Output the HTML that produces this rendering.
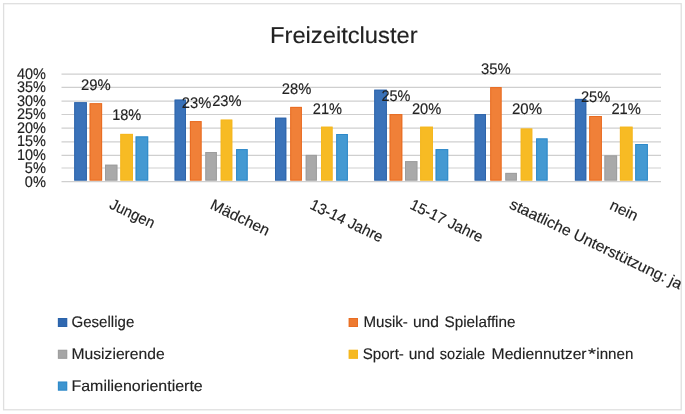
<!DOCTYPE html>
<html><head><meta charset="utf-8"><title>Freizeitcluster</title>
<style>
html,body{margin:0;padding:0;background:#fff;}
body{width:685px;height:414px;overflow:hidden;}
svg{display:block;will-change:transform;filter:blur(0.3px);}
text{font-family:"Liberation Sans",sans-serif;fill:#222;stroke:#222;stroke-width:0.15px;text-rendering:geometricPrecision;}
</style></head><body>
<svg width="685" height="414" viewBox="0 0 685 414">
<rect x="0" y="0" width="685" height="414" fill="#ffffff"/>
<rect x="3.6" y="3.7" width="677.6" height="406.1" fill="none" stroke="#dfdfdf" stroke-width="1.3"/>

<line x1="61.5" x2="661" y1="74.20" y2="74.20" stroke="#cfcfcf" stroke-width="1.2"/>
<line x1="61.5" x2="661" y1="87.40" y2="87.40" stroke="#cfcfcf" stroke-width="1.2"/>
<line x1="61.5" x2="661" y1="101.10" y2="101.10" stroke="#cfcfcf" stroke-width="1.2"/>
<line x1="61.5" x2="661" y1="114.50" y2="114.50" stroke="#cfcfcf" stroke-width="1.2"/>
<line x1="61.5" x2="661" y1="128.20" y2="128.20" stroke="#cfcfcf" stroke-width="1.2"/>
<line x1="61.5" x2="661" y1="141.80" y2="141.80" stroke="#cfcfcf" stroke-width="1.2"/>
<line x1="61.5" x2="661" y1="155.30" y2="155.30" stroke="#cfcfcf" stroke-width="1.2"/>
<line x1="61.5" x2="661" y1="168.00" y2="168.00" stroke="#cfcfcf" stroke-width="1.2"/>
<line x1="61.5" x2="661" y1="181.60" y2="181.60" stroke="#cfcfcf" stroke-width="1.2"/>
<rect x="74.20" y="102.20" width="12.70" height="78.40" fill="#3a72b9"/>
<rect x="74.70" y="102.70" width="11.70" height="77.40" fill="none" stroke="#2a60a6" stroke-width="1" stroke-opacity="0.75"/>
<rect x="89.60" y="103.20" width="12.50" height="77.40" fill="#f08038"/>
<rect x="90.10" y="103.70" width="11.50" height="76.40" fill="none" stroke="#e5641a" stroke-width="1" stroke-opacity="0.75"/>
<rect x="105.00" y="164.70" width="12.40" height="15.90" fill="#a9a9a9"/>
<rect x="105.50" y="165.20" width="11.40" height="14.90" fill="none" stroke="#999999" stroke-width="1" stroke-opacity="0.75"/>
<rect x="120.30" y="133.90" width="12.70" height="46.70" fill="#f7bb24"/>
<rect x="120.80" y="134.40" width="11.70" height="45.70" fill="none" stroke="#f4b51c" stroke-width="1" stroke-opacity="0.75"/>
<rect x="135.60" y="136.40" width="12.60" height="44.20" fill="#4499d2"/>
<rect x="136.10" y="136.90" width="11.60" height="43.20" fill="none" stroke="#2784c6" stroke-width="1" stroke-opacity="0.75"/>
<rect x="174.60" y="99.60" width="11.40" height="81.00" fill="#3a72b9"/>
<rect x="175.10" y="100.10" width="10.40" height="80.00" fill="none" stroke="#2a60a6" stroke-width="1" stroke-opacity="0.75"/>
<rect x="189.90" y="121.10" width="11.70" height="59.50" fill="#f08038"/>
<rect x="190.40" y="121.60" width="10.70" height="58.50" fill="none" stroke="#e5641a" stroke-width="1" stroke-opacity="0.75"/>
<rect x="205.30" y="152.00" width="11.60" height="28.60" fill="#a9a9a9"/>
<rect x="205.80" y="152.50" width="10.60" height="27.60" fill="none" stroke="#999999" stroke-width="1" stroke-opacity="0.75"/>
<rect x="220.70" y="119.60" width="11.60" height="61.00" fill="#f7bb24"/>
<rect x="221.20" y="120.10" width="10.60" height="60.00" fill="none" stroke="#f4b51c" stroke-width="1" stroke-opacity="0.75"/>
<rect x="236.10" y="149.10" width="11.60" height="31.50" fill="#4499d2"/>
<rect x="236.60" y="149.60" width="10.60" height="30.50" fill="none" stroke="#2784c6" stroke-width="1" stroke-opacity="0.75"/>
<rect x="275.00" y="117.70" width="11.30" height="62.90" fill="#3a72b9"/>
<rect x="275.50" y="118.20" width="10.30" height="61.90" fill="none" stroke="#2a60a6" stroke-width="1" stroke-opacity="0.75"/>
<rect x="290.20" y="106.90" width="11.70" height="73.70" fill="#f08038"/>
<rect x="290.70" y="107.40" width="10.70" height="72.70" fill="none" stroke="#e5641a" stroke-width="1" stroke-opacity="0.75"/>
<rect x="305.70" y="154.90" width="11.20" height="25.70" fill="#a9a9a9"/>
<rect x="306.20" y="155.40" width="10.20" height="24.70" fill="none" stroke="#999999" stroke-width="1" stroke-opacity="0.75"/>
<rect x="321.00" y="126.70" width="11.60" height="53.90" fill="#f7bb24"/>
<rect x="321.50" y="127.20" width="10.60" height="52.90" fill="none" stroke="#f4b51c" stroke-width="1" stroke-opacity="0.75"/>
<rect x="336.20" y="134.00" width="11.70" height="46.60" fill="#4499d2"/>
<rect x="336.70" y="134.50" width="10.70" height="45.60" fill="none" stroke="#2784c6" stroke-width="1" stroke-opacity="0.75"/>
<rect x="374.20" y="89.70" width="12.70" height="90.90" fill="#3a72b9"/>
<rect x="374.70" y="90.20" width="11.70" height="89.90" fill="none" stroke="#2a60a6" stroke-width="1" stroke-opacity="0.75"/>
<rect x="389.60" y="114.10" width="12.70" height="66.50" fill="#f08038"/>
<rect x="390.10" y="114.60" width="11.70" height="65.50" fill="none" stroke="#e5641a" stroke-width="1" stroke-opacity="0.75"/>
<rect x="405.00" y="161.10" width="12.40" height="19.50" fill="#a9a9a9"/>
<rect x="405.50" y="161.60" width="11.40" height="18.50" fill="none" stroke="#999999" stroke-width="1" stroke-opacity="0.75"/>
<rect x="420.10" y="126.70" width="12.90" height="53.90" fill="#f7bb24"/>
<rect x="420.60" y="127.20" width="11.90" height="52.90" fill="none" stroke="#f4b51c" stroke-width="1" stroke-opacity="0.75"/>
<rect x="435.60" y="149.10" width="12.60" height="31.50" fill="#4499d2"/>
<rect x="436.10" y="149.60" width="11.60" height="30.50" fill="none" stroke="#2784c6" stroke-width="1" stroke-opacity="0.75"/>
<rect x="474.60" y="114.10" width="11.40" height="66.50" fill="#3a72b9"/>
<rect x="475.10" y="114.60" width="10.40" height="65.50" fill="none" stroke="#2a60a6" stroke-width="1" stroke-opacity="0.75"/>
<rect x="490.20" y="87.10" width="11.40" height="93.50" fill="#f08038"/>
<rect x="490.70" y="87.60" width="10.40" height="92.50" fill="none" stroke="#e5641a" stroke-width="1" stroke-opacity="0.75"/>
<rect x="505.30" y="172.90" width="11.60" height="7.70" fill="#a9a9a9"/>
<rect x="505.80" y="173.40" width="10.60" height="6.70" fill="none" stroke="#999999" stroke-width="1" stroke-opacity="0.75"/>
<rect x="520.70" y="128.50" width="11.60" height="52.10" fill="#f7bb24"/>
<rect x="521.20" y="129.00" width="10.60" height="51.10" fill="none" stroke="#f4b51c" stroke-width="1" stroke-opacity="0.75"/>
<rect x="536.10" y="138.40" width="11.50" height="42.20" fill="#4499d2"/>
<rect x="536.60" y="138.90" width="10.50" height="41.20" fill="none" stroke="#2784c6" stroke-width="1" stroke-opacity="0.75"/>
<rect x="574.90" y="98.90" width="11.40" height="81.70" fill="#3a72b9"/>
<rect x="575.40" y="99.40" width="10.40" height="80.70" fill="none" stroke="#2a60a6" stroke-width="1" stroke-opacity="0.75"/>
<rect x="589.20" y="116.00" width="12.70" height="64.60" fill="#f08038"/>
<rect x="589.70" y="116.50" width="11.70" height="63.60" fill="none" stroke="#e5641a" stroke-width="1" stroke-opacity="0.75"/>
<rect x="604.40" y="155.40" width="12.70" height="25.20" fill="#a9a9a9"/>
<rect x="604.90" y="155.90" width="11.70" height="24.20" fill="none" stroke="#999999" stroke-width="1" stroke-opacity="0.75"/>
<rect x="619.90" y="126.70" width="12.70" height="53.90" fill="#f7bb24"/>
<rect x="620.40" y="127.20" width="11.70" height="52.90" fill="none" stroke="#f4b51c" stroke-width="1" stroke-opacity="0.75"/>
<rect x="635.20" y="144.00" width="12.70" height="36.60" fill="#4499d2"/>
<rect x="635.70" y="144.50" width="11.70" height="35.60" fill="none" stroke="#2784c6" stroke-width="1" stroke-opacity="0.75"/>
<text x="16.90" y="78.75" font-size="15.4" textLength="29.0" lengthAdjust="spacingAndGlyphs">40%</text>
<text x="16.90" y="92.23" font-size="15.4" textLength="29.0" lengthAdjust="spacingAndGlyphs">35%</text>
<text x="16.90" y="105.71" font-size="15.4" textLength="29.0" lengthAdjust="spacingAndGlyphs">30%</text>
<text x="16.90" y="119.19" font-size="15.4" textLength="29.0" lengthAdjust="spacingAndGlyphs">25%</text>
<text x="16.90" y="132.67" font-size="15.4" textLength="29.0" lengthAdjust="spacingAndGlyphs">20%</text>
<text x="16.90" y="146.15" font-size="15.4" textLength="29.0" lengthAdjust="spacingAndGlyphs">15%</text>
<text x="16.90" y="159.63" font-size="15.4" textLength="29.0" lengthAdjust="spacingAndGlyphs">10%</text>
<text x="24.80" y="173.11" font-size="15.4" textLength="21.1" lengthAdjust="spacingAndGlyphs">5%</text>
<text x="24.80" y="186.59" font-size="15.4" textLength="21.1" lengthAdjust="spacingAndGlyphs">0%</text>
<text x="81.10" y="90.10" font-size="15.4" textLength="29.70" lengthAdjust="spacingAndGlyphs">29%</text>
<text x="112.20" y="119.80" font-size="15.4" textLength="29.10" lengthAdjust="spacingAndGlyphs">18%</text>
<text x="181.80" y="107.50" font-size="15.4" textLength="29.50" lengthAdjust="spacingAndGlyphs">23%</text>
<text x="212.20" y="105.50" font-size="15.4" textLength="29.30" lengthAdjust="spacingAndGlyphs">23%</text>
<text x="281.80" y="94.20" font-size="15.4" textLength="29.50" lengthAdjust="spacingAndGlyphs">28%</text>
<text x="312.80" y="113.90" font-size="15.4" textLength="29.20" lengthAdjust="spacingAndGlyphs">21%</text>
<text x="381.50" y="101.30" font-size="15.4" textLength="29.00" lengthAdjust="spacingAndGlyphs">25%</text>
<text x="411.90" y="114.10" font-size="15.4" textLength="29.30" lengthAdjust="spacingAndGlyphs">20%</text>
<text x="481.10" y="74.05" font-size="15.4" textLength="29.70" lengthAdjust="spacingAndGlyphs">35%</text>
<text x="512.00" y="114.30" font-size="15.4" textLength="30.00" lengthAdjust="spacingAndGlyphs">20%</text>
<text x="580.90" y="102.10" font-size="15.4" textLength="29.40" lengthAdjust="spacingAndGlyphs">25%</text>
<text x="611.40" y="114.10" font-size="15.4" textLength="29.50" lengthAdjust="spacingAndGlyphs">21%</text>
<text x="270.0" y="43" font-size="23" stroke-width="0.15" textLength="147.6" lengthAdjust="spacingAndGlyphs">Freizeitcluster</text>
<text transform="translate(109.1,208.1) rotate(25.6)" x="-0.8" y="0" font-size="15.4" textLength="48.199999999999996" lengthAdjust="spacingAndGlyphs">Jungen</text>
<text transform="translate(209.9,208.7) rotate(25.6)" x="-0.8" y="0" font-size="15.4" textLength="63.699999999999996" lengthAdjust="spacingAndGlyphs">Mädchen</text>
<text transform="translate(309.6,208.7) rotate(25.6)" x="-0.8" y="0" font-size="15.4" textLength="78.9" lengthAdjust="spacingAndGlyphs">13-14 Jahre</text>
<text transform="translate(409.6,208.7) rotate(25.6)" x="-0.8" y="0" font-size="15.4" textLength="78.9" lengthAdjust="spacingAndGlyphs">15-17 Jahre</text>
<text transform="translate(509.3,208.2) rotate(25.6)" x="-0.8" y="0" font-size="15.4" textLength="189.0" lengthAdjust="spacingAndGlyphs">staatliche Unterstützung: ja</text>
<text transform="translate(609.5,209.1) rotate(25.6)" x="-0.8" y="0" font-size="15.4" textLength="29.0" lengthAdjust="spacingAndGlyphs">nein</text>
<rect x="57.90" y="318.00" width="9.3" height="9" fill="#2f68b0"/>
<rect x="58.40" y="318.50" width="8.3" height="8" fill="none" stroke="#2a60a6" stroke-width="1" stroke-opacity="0.6"/>
<text x="71.50" y="327.40" font-size="15.4" textLength="62.80" lengthAdjust="spacingAndGlyphs">Gesellige</text>
<rect x="57.90" y="349.80" width="9.3" height="9" fill="#a6a6a6"/>
<rect x="58.40" y="350.30" width="8.3" height="8" fill="none" stroke="#999999" stroke-width="1" stroke-opacity="0.6"/>
<text x="71.50" y="359.00" font-size="15.4" textLength="93.20" lengthAdjust="spacingAndGlyphs">Musizierende</text>
<rect x="57.90" y="381.60" width="9.3" height="9" fill="#3d94cf"/>
<rect x="58.40" y="382.10" width="8.3" height="8" fill="none" stroke="#2784c6" stroke-width="1" stroke-opacity="0.6"/>
<text x="71.50" y="390.80" font-size="15.4" textLength="131.20" lengthAdjust="spacingAndGlyphs">Familienorientierte</text>
<rect x="348.70" y="318.00" width="9.3" height="9" fill="#ee7a30"/>
<rect x="349.20" y="318.50" width="8.3" height="8" fill="none" stroke="#e5641a" stroke-width="1" stroke-opacity="0.6"/>
<text x="363.40" y="327.40" font-size="15.4" textLength="44.50" lengthAdjust="spacingAndGlyphs">Musik-</text>
<text x="412.90" y="327.40" font-size="15.4" textLength="26.00" lengthAdjust="spacingAndGlyphs">und</text>
<text x="444.50" y="327.40" font-size="15.4" textLength="71.00" lengthAdjust="spacingAndGlyphs">Spielaffine</text>
<rect x="348.70" y="349.80" width="9.3" height="9" fill="#f6b921"/>
<rect x="349.20" y="350.30" width="8.3" height="8" fill="none" stroke="#f4b51c" stroke-width="1" stroke-opacity="0.6"/>
<text x="362.70" y="359.10" font-size="15.4" textLength="41.20" lengthAdjust="spacingAndGlyphs">Sport-</text>
<text x="408.70" y="359.10" font-size="15.4" textLength="26.00" lengthAdjust="spacingAndGlyphs">und</text>
<text x="439.80" y="359.10" font-size="15.4" textLength="45.20" lengthAdjust="spacingAndGlyphs">soziale</text>
<text x="491.60" y="359.10" font-size="15.4" textLength="95.00" lengthAdjust="spacingAndGlyphs">Mediennutzer</text>
<text x="587.90" y="359.10" font-size="15.4" textLength="8.00" lengthAdjust="spacingAndGlyphs">*</text>
<text x="596.30" y="359.10" font-size="15.4" textLength="37.00" lengthAdjust="spacingAndGlyphs">innen</text>
</svg></body></html>
